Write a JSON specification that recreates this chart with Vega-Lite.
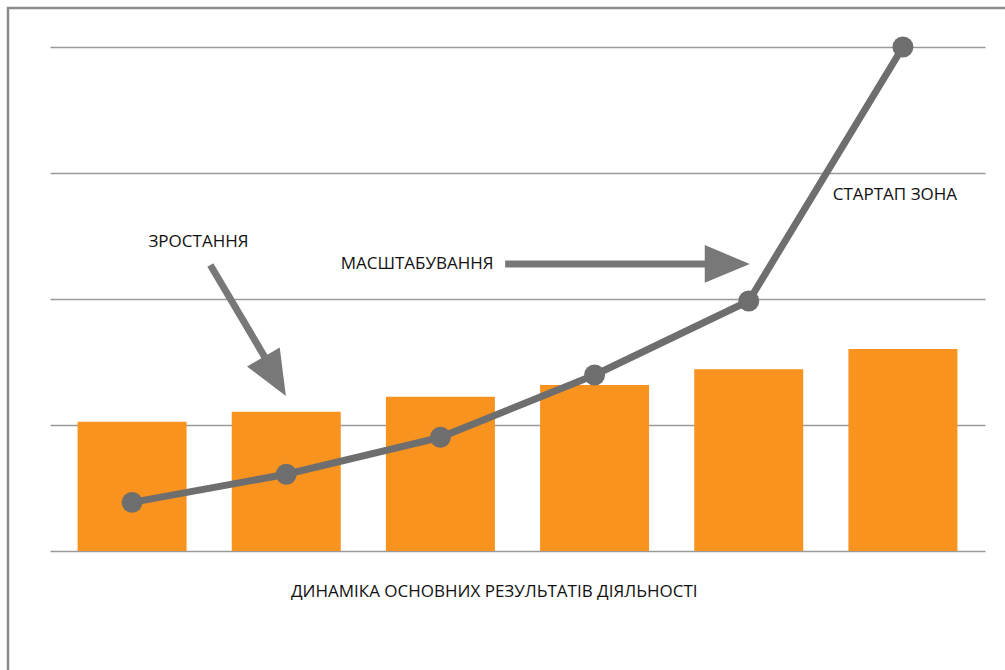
{
  "$schema": "https://vega.github.io/schema/vega-lite/v6.json",
  "autosize": {"type": "none"},
  "width": 1001,
  "height": 666,
  "padding": {"left": 8, "top": 8, "right": 0, "bottom": 0},
  "background": "white",
  "config": {
    "view": {"stroke": "#8c8c8c", "strokeWidth": 2.5},
    "font": "Open Sans"
  },
  "datasets": {
    "main": [
      {"period": 1, "bar": 1.026, "line": 0.386},
      {"period": 2, "bar": 1.106, "line": 0.609},
      {"period": 3, "bar": 1.225, "line": 0.902},
      {"period": 4, "bar": 1.317, "line": 1.397},
      {"period": 5, "bar": 1.442, "line": 1.984},
      {"period": 6, "bar": 1.603, "line": 4.0}
    ],
    "shafts": [
      {"x": 1.5075, "y": 2.270, "x2": 1.8605, "y2": 1.540},
      {"x": 3.420, "y": 2.278, "x2": 4.748, "y2": 2.278}
    ],
    "heads": [
      {"x": 1.9246, "y": 1.385, "angle": 60},
      {"x": 4.8605, "y": 2.278, "angle": 0}
    ],
    "labels": [
      {"x": 1.4305, "y": 2.452, "text": "ЗРОСТАННЯ"},
      {"x": 2.849, "y": 2.278, "text": "МАСШТАБУВАННЯ"},
      {"x": 5.948, "y": 2.825, "text": "СТАРТАП ЗОНА"},
      {"x": 3.349, "y": -0.325, "text": "ДИНАМІКА ОСНОВНИХ РЕЗУЛЬТАТІВ ДІЯЛЬНОСТІ"}
    ]
  },
  "layer": [
    {
      "data": {"name": "main"},
      "mark": {"type": "bar", "width": 109, "color": "#F7931E"},
      "encoding": {
        "x": {"field": "period", "type": "quantitative", "scale": {"domain": [0.5, 6.5], "range": [42, 977], "nice": false, "zero": false}, "axis": null},
        "y": {"field": "bar", "type": "quantitative", "scale": {"domain": [0, 4], "range": [543, 39], "nice": false, "zero": false},
              "axis": {"values": [0, 1, 2, 3, 4], "grid": true, "gridColor": "#9a9a9a", "gridWidth": 1.5, "labels": false, "ticks": false, "domain": false, "title": null}}
      }
    },
    {
      "data": {"name": "main"},
      "mark": {"type": "line", "color": "#6e6e6e", "strokeWidth": 7},
      "encoding": {
        "x": {"field": "period", "type": "quantitative", "scale": {"domain": [0.5, 6.5], "range": [42, 977], "nice": false, "zero": false}},
        "y": {"field": "line", "type": "quantitative", "scale": {"domain": [0, 4], "range": [543, 39], "nice": false, "zero": false}}
      }
    },
    {
      "data": {"name": "main"},
      "mark": {"type": "point", "filled": true, "color": "#6e6e6e", "opacity": 1, "size": 440},
      "encoding": {
        "x": {"field": "period", "type": "quantitative", "scale": {"domain": [0.5, 6.5], "range": [42, 977], "nice": false, "zero": false}},
        "y": {"field": "line", "type": "quantitative", "scale": {"domain": [0, 4], "range": [543, 39], "nice": false, "zero": false}}
      }
    },
    {
      "data": {"name": "shafts"},
      "mark": {"type": "rule", "color": "#787878", "strokeWidth": 7},
      "encoding": {
        "x": {"field": "x", "type": "quantitative", "scale": {"domain": [0.5, 6.5], "range": [42, 977], "nice": false, "zero": false}},
        "y": {"field": "y", "type": "quantitative", "scale": {"domain": [0, 4], "range": [543, 39], "nice": false, "zero": false}},
        "x2": {"field": "x2"},
        "y2": {"field": "y2"}
      }
    },
    {
      "data": {"name": "heads"},
      "mark": {"type": "point", "filled": true, "color": "#787878", "opacity": 1, "size": 2025, "shape": "M-1,-0.84L1,0L-1,0.84Z"},
      "encoding": {
        "x": {"field": "x", "type": "quantitative", "scale": {"domain": [0.5, 6.5], "range": [42, 977], "nice": false, "zero": false}},
        "y": {"field": "y", "type": "quantitative", "scale": {"domain": [0, 4], "range": [543, 39], "nice": false, "zero": false}},
        "angle": {"field": "angle", "type": "quantitative", "scale": null}
      }
    },
    {
      "data": {"name": "labels"},
      "mark": {"type": "text", "fontSize": 17, "color": "#111111", "align": "center", "baseline": "middle"},
      "encoding": {
        "x": {"field": "x", "type": "quantitative", "scale": {"domain": [0.5, 6.5], "range": [42, 977], "nice": false, "zero": false}},
        "y": {"field": "y", "type": "quantitative", "scale": {"domain": [0, 4], "range": [543, 39], "nice": false, "zero": false}},
        "text": {"field": "text"}
      }
    }
  ]
}
